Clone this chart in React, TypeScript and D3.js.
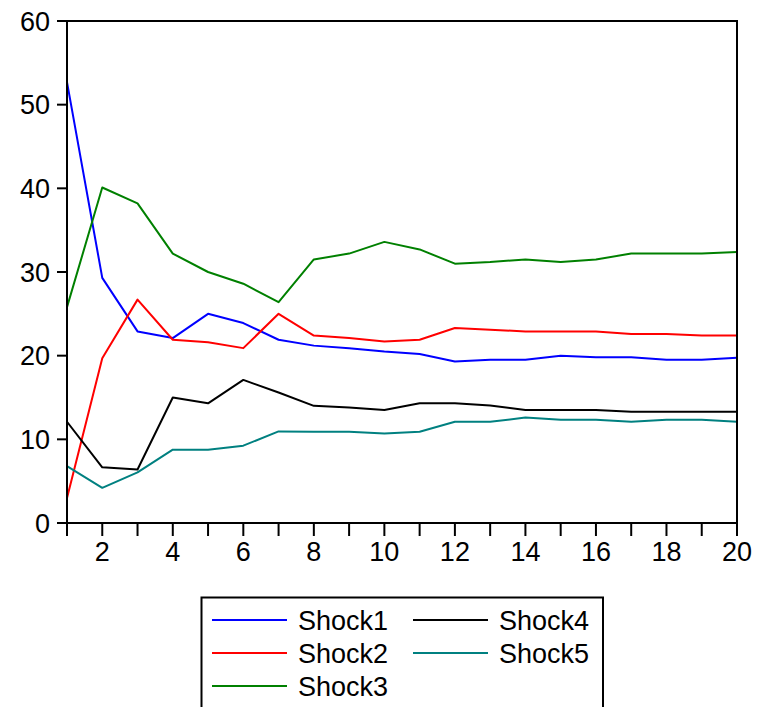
import React from 'react';
import * as d3 from 'd3';

const periods = d3.range(1, 21);
const seriesNames = ['Shock1', 'Shock2', 'Shock3', 'Shock4', 'Shock5'];
const seriesColors = ['#0000ff', '#ff0000', '#008000', '#000000', '#008080'];

const shock1 = [52.7, 29.3, 22.9, 22.1, 25.0, 23.9, 21.9, 21.2, 20.9, 20.5, 20.2, 19.3, 19.5, 19.5, 20.0, 19.8, 19.8, 19.5, 19.5, 19.75];
const shock2 = [3.0, 19.7, 26.7, 21.9, 21.6, 20.9, 25.0, 22.4, 22.1, 21.7, 21.9, 23.3, 23.1, 22.9, 22.9, 22.9, 22.6, 22.6, 22.4, 22.4];
const shock3 = [25.8, 40.1, 38.2, 32.2, 30.0, 28.6, 26.4, 31.5, 32.2, 33.6, 32.7, 31.0, 31.2, 31.5, 31.2, 31.5, 32.2, 32.2, 32.2, 32.4];
const shock4 = [12.1, 6.65, 6.4, 15.0, 14.3, 17.1, 15.6, 14.0, 13.8, 13.5, 14.3, 14.3, 14.05, 13.5, 13.5, 13.5, 13.3, 13.3, 13.3, 13.3];
const shock5 = [6.8, 4.2, 6.05, 8.76, 8.76, 9.24, 10.95, 10.9, 10.9, 10.7, 10.9, 12.1, 12.1, 12.6, 12.35, 12.35, 12.1, 12.35, 12.35, 12.1];

const yTicks = [0, 10, 20, 30, 40, 50, 60];
const xLabels = [2, 4, 6, 8, 10, 12, 14, 16, 18, 20];

const allSeries = [shock1, shock2, shock3, shock4, shock5];

const W = 767;
const H = 707;
const left = 67;
const right = 737;
const top = 21;
const bottom = 523;
const font = '"Liberation Sans", Arial, sans-serif';

export default function App() {
  const x = d3.scaleLinear().domain([1, 20]).range([left, right]);
  const y = d3.scaleLinear().domain([0, 60]).range([bottom, top]);

  const line = d3
    .line<number>()
    .x((d, i) => x(periods[i]))
    .y((d) => y(d));

  // legend layout: 3 rows in column 1, 2 in column 2
  const legendItems = seriesNames.map((name, i) => ({
    name,
    color: seriesColors[i],
    col: i < 3 ? 0 : 1,
    row: i < 3 ? i : i - 3,
  }));

  return (
    <svg
      width={W}
      height={H}
      style={{ position: 'absolute', left: 0, top: 0, background: '#fff' }}
      fontFamily={font}
    >
      <rect x={0} y={0} width={W} height={H} fill="#fff" />

      {allSeries.map((s, i) => (
        <path
          key={seriesNames[i]}
          d={line(s) || ''}
          fill="none"
          stroke={seriesColors[i]}
          strokeWidth={2}
          strokeLinejoin="round"
        />
      ))}

      <rect
        x={left}
        y={top}
        width={right - left}
        height={bottom - top}
        fill="none"
        stroke="#000"
        strokeWidth={2}
      />

      {yTicks.map((t) => (
        <g key={t}>
          <line x1={left - 10} x2={left} y1={y(t)} y2={y(t)} stroke="#000" strokeWidth={2} />
          <text x={50} y={y(t)} dy="0.36em" textAnchor="end" fontSize={27} fill="#000">
            {t}
          </text>
        </g>
      ))}

      {periods.map((p) => (
        <line key={p} x1={x(p)} x2={x(p)} y1={bottom} y2={bottom + 13} stroke="#000" strokeWidth={2} />
      ))}
      {xLabels.map((p) => (
        <text key={p} x={x(p)} y={561} textAnchor="middle" fontSize={27} fill="#000">
          {p}
        </text>
      ))}

      <rect x={201.5} y={597.5} width={401.5} height={130} fill="#fff" stroke="#000" strokeWidth={2} />
      {legendItems.map((it) => {
        const lx = it.col === 0 ? 212 : 413;
        const ly = 620 + it.row * 33;
        return (
          <g key={it.name}>
            <line x1={lx} x2={lx + 75} y1={ly} y2={ly} stroke={it.color} strokeWidth={2} />
            <text x={lx + 86} y={ly} dy="0.36em" fontSize={27} fill="#000">
              {it.name}
            </text>
          </g>
        );
      })}
    </svg>
  );
}
